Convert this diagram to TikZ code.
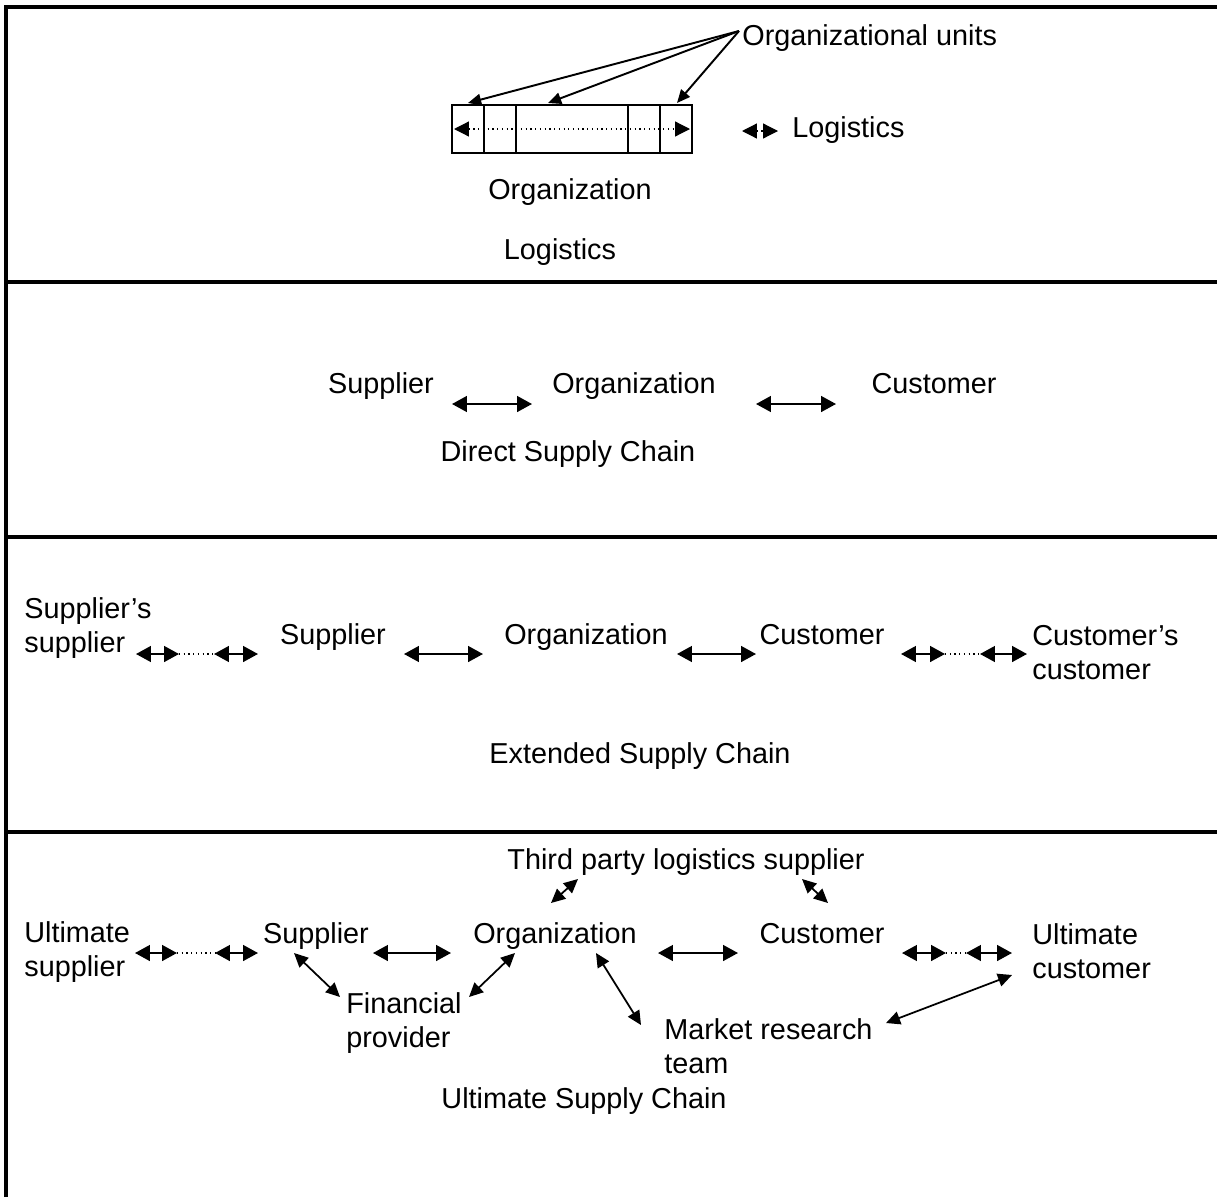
\documentclass[tikz,border=0pt]{standalone}
\usepackage{fontspec}
\setmainfont{Liberation Sans}
\usetikzlibrary{arrows.meta}

\begin{document}
\begin{tikzpicture}[x=0.02cm,y=-0.02cm]
\tikzstyle{every node}+=[inner sep=0pt, font=\fontsize{16.4}{19.3}\selectfont]
\tikzstyle{frame}=[line width=2pt]
\tikzstyle{link}=[line width=1.1pt, {Triangle[length=8.5pt,width=9pt]}-{Triangle[length=8.5pt,width=9pt]}]
\tikzstyle{slant}=[line width=1pt, {Triangle[length=8pt,width=7.5pt]}-{Triangle[length=8pt,width=7.5pt]}]
\tikzstyle{dots}=[line width=0.7pt, dotted, {Triangle[length=8.5pt,width=8.5pt]}-{Triangle[length=8.5pt,width=8.5pt]}]
\tikzstyle{gap}=[line width=0.7pt, dotted]
\tikzstyle{pointer}=[line width=1.1pt, -{Triangle[length=7.5pt,width=6.5pt]}]
\useasboundingbox (0,0) rectangle (1217,1197);

% frame and panels
\draw[frame] (6,1197) -- (6,7) -- (1217,7);
\foreach \y in {282,537,832} \draw[frame] (6,\y) -- (1217,\y);

% panel 1: logistics
\draw[line width=1.1pt] (452,105) rectangle (692,153);
\foreach \x in {484,516,628,660} \draw[line width=1.1pt] (\x,105) -- (\x,153);
\coordinate (inl) at (454,129);
\coordinate (inr) at (690,129);
\draw[dots] (inl) -- (inr);
\node[anchor=base west] (units) at (742,45) {Organizational units};
\coordinate (fan) at (739,31);
\coordinate (u1) at (468,103);
\coordinate (u2) at (548,103);
\coordinate (u3) at (677,103);
\foreach \t in {u1,u2,u3} \draw[pointer] (fan) -- (\t);
\node[anchor=base west] (leglog) at (792,137) {Logistics};
\coordinate (legl) at (742,131);
\coordinate (legr) at (778,131);
\draw[dots] (legl) -- (legr);
\node[anchor=base] (org1) at (570,199) {Organization};
\node[anchor=base] (title1) at (560,259) {Logistics};

% panel 2: direct supply chain
\node[anchor=base] (sup2) at (381,393) {Supplier};
\node[anchor=base] (org2) at (634,393) {Organization};
\node[anchor=base] (cus2) at (934,393) {Customer};
\node[anchor=base] (title2) at (568,461) {Direct Supply Chain};
\coordinate (d1) at (452,404);
\coordinate (d2) at (532,404);
\coordinate (d3) at (756,404);
\coordinate (d4) at (836,404);
\draw[link] (d1) -- (d2);
\draw[link] (d3) -- (d4);

% panel 3: extended supply chain
\node[anchor=base west, align=left] (ssup3) at (24,652) {Supplier’s\\supplier};
\node[anchor=base] (sup3) at (333,644) {Supplier};
\node[anchor=base] (org3) at (586,644) {Organization};
\node[anchor=base] (cus3) at (822,644) {Customer};
\node[anchor=base west, align=left] (ccus3) at (1032,679) {Customer’s\\customer};
\node[anchor=base] (title3) at (640,763) {Extended Supply Chain};
\coordinate (e1) at (136,654);
\coordinate (e2) at (179,654);
\coordinate (e3) at (214,654);
\coordinate (e4) at (258,654);
\coordinate (e5) at (404,654);
\coordinate (e6) at (483,654);
\coordinate (e7) at (677,654);
\coordinate (e8) at (756,654);
\coordinate (e9) at (901,654);
\coordinate (e10) at (945,654);
\coordinate (e11) at (980,654);
\coordinate (e12) at (1027,654);
\draw[link] (e1) -- (e2);
\draw[gap] (e2) -- (e3);
\draw[link] (e3) -- (e4);
\draw[link] (e5) -- (e6);
\draw[link] (e7) -- (e8);
\draw[link] (e9) -- (e10);
\draw[gap] (e10) -- (e11);
\draw[link] (e11) -- (e12);

% panel 4: ultimate supply chain
\node[anchor=base] (tpl) at (686,869) {Third party logistics supplier};
\node[anchor=base west, align=left] (usup) at (24,976) {Ultimate\\supplier};
\node[anchor=base] (sup4) at (316,943) {Supplier};
\node[anchor=base] (org4) at (555,943) {Organization};
\node[anchor=base] (cus4) at (822,943) {Customer};
\node[anchor=base west, align=left] (ucus) at (1032,978) {Ultimate\\customer};
\node[anchor=base west, align=left] (fin) at (346,1047) {Financial\\provider};
\node[anchor=base west, align=left] (mrt) at (664,1073) {Market research\\team};
\node[anchor=base] (title4) at (584,1108) {Ultimate Supply Chain};
\coordinate (f1) at (135,953);
\coordinate (f2) at (177,953);
\coordinate (f3) at (215,953);
\coordinate (f4) at (258,953);
\coordinate (f5) at (373,953);
\coordinate (f6) at (451,953);
\coordinate (f7) at (658,953);
\coordinate (f8) at (738,953);
\coordinate (f9) at (902,953);
\coordinate (f10) at (946,953);
\coordinate (f11) at (966,953);
\coordinate (f12) at (1012,953);
\draw[link] (f1) -- (f2);
\draw[gap] (f2) -- (f3);
\draw[link] (f3) -- (f4);
\draw[link] (f5) -- (f6);
\draw[link] (f7) -- (f8);
\draw[link] (f9) -- (f10);
\draw[gap] (f10) -- (f11);
\draw[link] (f11) -- (f12);
% side links
\coordinate (g1) at (294,953);
\coordinate (g2) at (340,997);
\coordinate (g3) at (469,997);
\coordinate (g4) at (515,953);
\coordinate (g5) at (596,953);
\coordinate (g6) at (641,1025);
\coordinate (g7) at (886,1023);
\coordinate (g8) at (1012,975);
\coordinate (g9) at (551,903);
\coordinate (g10) at (578,879);
\coordinate (g11) at (802,879);
\coordinate (g12) at (828,903);
\draw[slant] (g1) -- (g2);
\draw[slant] (g3) -- (g4);
\draw[slant] (g5) -- (g6);
\draw[slant] (g7) -- (g8);
\draw[slant] (g9) -- (g10);
\draw[slant] (g11) -- (g12);
\end{tikzpicture}
\end{document}
